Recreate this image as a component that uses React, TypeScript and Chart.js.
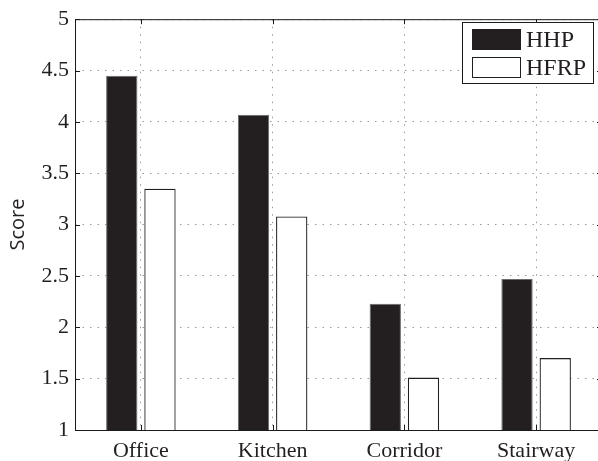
import React, { useEffect, useRef } from "react";
import { Chart, registerables } from "chart.js";

Chart.register(...registerables);

const categories = ["Office", "Kitchen", "Corridor", "Stairway"];
const seriesLabels = ["HHP", "HFRP"];
const hhpValues = [4.45, 4.07, 2.23, 2.47];
const hfrpValues = [3.35, 3.08, 1.51, 1.7];
const yTicks = [1, 1.5, 2, 2.5, 3, 3.5, 4, 4.5, 5];

const SERIF = "'Liberation Serif', 'Times New Roman', serif";

const framePlugin = {
  id: "frame",
  afterDraw(chart: any) {
    const { ctx, chartArea } = chart;
    const { left, right, top, bottom } = chartArea;
    ctx.save();
    ctx.strokeStyle = "#1a1a1a";
    ctx.lineWidth = 1;
    ctx.setLineDash([]);
    ctx.strokeRect(left + 0.5, top + 0.5, right - left - 1, bottom - top);
    const ys = chart.scales.y;
    const xs = chart.scales.x;
    ctx.beginPath();
    ys.ticks.forEach((t: any) => {
      const y = Math.round(ys.getPixelForValue(t.value)) + 0.5;
      ctx.moveTo(left, y);
      ctx.lineTo(left + 5, y);
      ctx.moveTo(right, y);
      ctx.lineTo(right - 5, y);
    });
    xs.ticks.forEach((_t: any, i: number) => {
      const x = Math.round(xs.getPixelForTick(i)) + 0.5;
      ctx.moveTo(x, bottom);
      ctx.lineTo(x, bottom - 5);
      ctx.moveTo(x, top);
      ctx.lineTo(x, top + 5);
    });
    ctx.stroke();

    // legend
    const lx = 462.5, ly = 22.5, lw = 131, lh = 61;
    ctx.fillStyle = "#ffffff";
    ctx.fillRect(lx, ly, lw, lh);
    ctx.strokeStyle = "#1a1a1a";
    ctx.strokeRect(lx, ly, lw, lh);
    ctx.font = `24px ${SERIF}`;
    ctx.textBaseline = "middle";
    ctx.textAlign = "left";
    chart.data.datasets.forEach((ds: any, i: number) => {
      const sy = 29.5 + i * 28;
      ctx.fillStyle = ds.backgroundColor;
      ctx.fillRect(472.5, sy, 48, 20);
      ctx.strokeStyle = "#231f20";
      ctx.lineWidth = 1;
      ctx.strokeRect(472.5, sy, 48, 20);
      ctx.fillStyle = "#231f20";
      ctx.fillText(ds.label, 526, sy + 11);
    });
    ctx.restore();
  },
};

export default function App() {
  const ref = useRef<HTMLCanvasElement>(null);

  useEffect(() => {
    document.body.style.margin = "0";
    if (!ref.current) return;
    const chart = new Chart(ref.current, {
      type: "bar",
      data: {
        labels: categories,
        datasets: [
          {
            label: seriesLabels[0],
            data: hhpValues,
            backgroundColor: "#231f20",
            borderColor: "#6a6a6a",
            borderWidth: 1,
          },
          {
            label: seriesLabels[1],
            data: hfrpValues,
            backgroundColor: "#ffffff",
            borderColor: "#231f20",
            borderWidth: 1.3,
          },
        ],
      },
      options: {
        responsive: false,
        maintainAspectRatio: false,
        animation: false,
        devicePixelRatio: 1,
        layout: { padding: { top: 14, right: 0, left: 0, bottom: 0 } },
        datasets: {
          bar: { categoryPercentage: 0.58, barPercentage: 0.82 },
        },
        plugins: {
          legend: { display: false },
          tooltip: { enabled: false },
        },
        scales: {
          x: {
            offset: true,
            grid: {
              offset: false,
              color: "#9a9a9a",
              lineWidth: 1,
              drawTicks: false,
            },
            border: { display: false, dash: [1.5, 6] },
            ticks: {
              color: "#231f20",
              font: { family: SERIF, size: 22 },
              padding: 8,
            },
            afterFit: (s: any) => {
              s.height = 31;
            },
          },
          y: {
            min: 1,
            max: 5,
            afterBuildTicks: (s: any) => {
              s.ticks = yTicks.map((v) => ({ value: v }));
            },
            grid: { color: "#9a9a9a", lineWidth: 1, drawTicks: false },
            border: { display: false, dash: [1.5, 6] },
            ticks: {
              color: "#231f20",
              font: { family: SERIF, size: 22 },
              padding: 6,
              callback: (v: any) => String(v),
            },
            title: {
              display: true,
              text: "Score",
              color: "#231f20",
              font: { family: "'Open Sans', 'Liberation Sans', sans-serif", size: 20 },
              padding: { top: 6, bottom: 0 },
            },
            afterFit: (s: any) => {
              s.width = 75;
            },
          },
        },
      },
      plugins: [framePlugin],
    });
    return () => chart.destroy();
  }, []);

  return (
    <div
      style={{
        position: "absolute",
        left: 0,
        top: 0,
        width: 598,
        height: 461,
        overflow: "hidden",
        background: "#fff",
      }}
    >
      <canvas ref={ref} width={602} height={461} style={{ width: 602, height: 461 }} />
    </div>
  );
}
